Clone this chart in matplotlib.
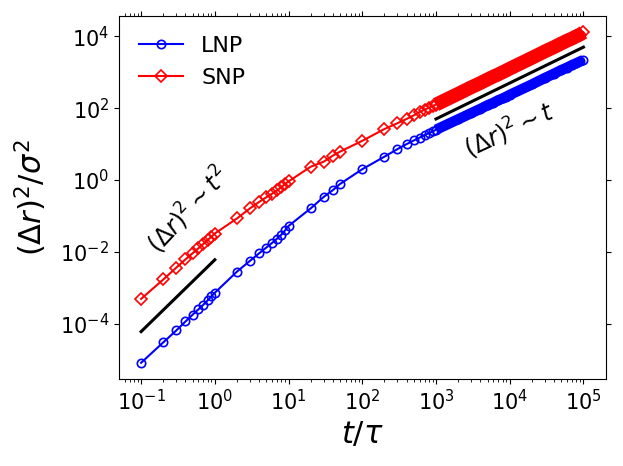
import numpy as np
import matplotlib
matplotlib.use("Agg")
import matplotlib.pyplot as plt
from matplotlib.ticker import NullLocator

# time values (t/tau)
t = [0.1, 0.2, 0.3, 0.4, 0.5, 0.6, 0.7, 0.8, 0.9, 1.0,
     2, 3, 4, 5, 6, 7, 8, 9, 10,
     20, 30, 40, 50,
     100, 200, 300, 400, 500, 600, 700, 800, 900, 1000,
     2000, 3000, 4000, 5000, 6000, 7000, 8000, 9000, 10000,
     20000, 30000, 40000, 50000, 60000, 70000, 80000, 90000, 100000]

# log10 of MSD
lnp_log = [-5.09, -4.52, -4.19, -3.94, -3.75, -3.60, -3.47, -3.35, -3.24, -3.14,
           -2.55, -2.25, -2.04, -1.88, -1.75, -1.63, -1.52, -1.40, -1.28,
           -0.79, -0.47, -0.28, -0.11,
           0.30, 0.65, 0.86, 1.00, 1.10, 1.18, 1.25, 1.30, 1.35, 1.40,
           1.69, 1.86, 1.98, 2.08, 2.15, 2.22, 2.27, 2.32, 2.37,
           2.66, 2.84, 2.96, 3.06, 3.13, 3.20, 3.25, 3.30, 3.34]
snp_log = [-3.31, -2.77, -2.44, -2.21, -2.04, -1.90, -1.78, -1.67, -1.58, -1.49,
           -1.07, -0.79, -0.61, -0.48, -0.38, -0.29, -0.20, -0.11, -0.04,
           0.37, 0.51, 0.68, 0.79,
           1.09, 1.42, 1.58, 1.70, 1.80, 1.89, 1.96, 2.01, 2.06, 2.10,
           2.40, 2.58, 2.70, 2.80, 2.88, 2.94, 3.00, 3.05, 3.10,
           3.40, 3.58, 3.70, 3.80, 3.88, 3.94, 4.00, 4.05, 4.11]

lnp = 10.0 ** np.array(lnp_log)
snp = 10.0 ** np.array(snp_log)
t = np.array(t)

# guide lines
ball_t = [0.1, 1.0]
ball_coef = 6.0e-3
diff_t = [1000, 100000]
diff_coef = 0.05

plt.rcParams['mathtext.fontset'] = 'dejavusans'
fig = plt.figure(figsize=(6.23, 4.66), dpi=100)
ax = fig.add_axes([0.191, 0.186, 0.781, 0.780])

ax.plot(t, lnp, '-o', color='b', mfc='none', ms=6, mew=1.2, lw=1.5, label='LNP')
ax.plot(t, snp, '-D', color='r', mfc='none', ms=6, mew=1.2, lw=1.5, label='SNP')

# dense sampling region rendered as overlapping markers -> band
dense = t >= 1000
ax.plot(t[dense], lnp[dense], '-', color='b', lw=7.5, solid_capstyle='butt')
ax.plot(t[dense], snp[dense], '-', color='r', lw=10, solid_capstyle='butt')

bt = np.array(ball_t)
ax.plot(bt, ball_coef * bt**2, 'k-', lw=2.2)
dt = np.array(diff_t, dtype=float)
ax.plot(dt, diff_coef * dt, 'k-', lw=2.2)

ax.set_xscale('log')
ax.set_yscale('log')
ax.yaxis.set_minor_locator(NullLocator())

ax.text(0.436, 0.145, r'$(\Delta r)^2\sim t^2$', fontsize=17, rotation=47,
        ha='center', va='center', rotation_mode='anchor')
ax.text(9800, 25, r'$(\Delta r)^2\sim t$', fontsize=17, rotation=25,
        ha='center', va='center', rotation_mode='anchor')

ax.set_xlabel(r'$t/\tau$', fontsize=22)
ax.set_ylabel(r'$(\Delta r)^2/\sigma^2$', fontsize=22, labelpad=8)
ax.tick_params(which='both', top=True, right=True, direction='out', labelsize=15)

ax.legend(loc='upper left', frameon=False, fontsize=16, labelspacing=0.55,
          handlelength=2.0)

fig.savefig('out.png', dpi=100)
